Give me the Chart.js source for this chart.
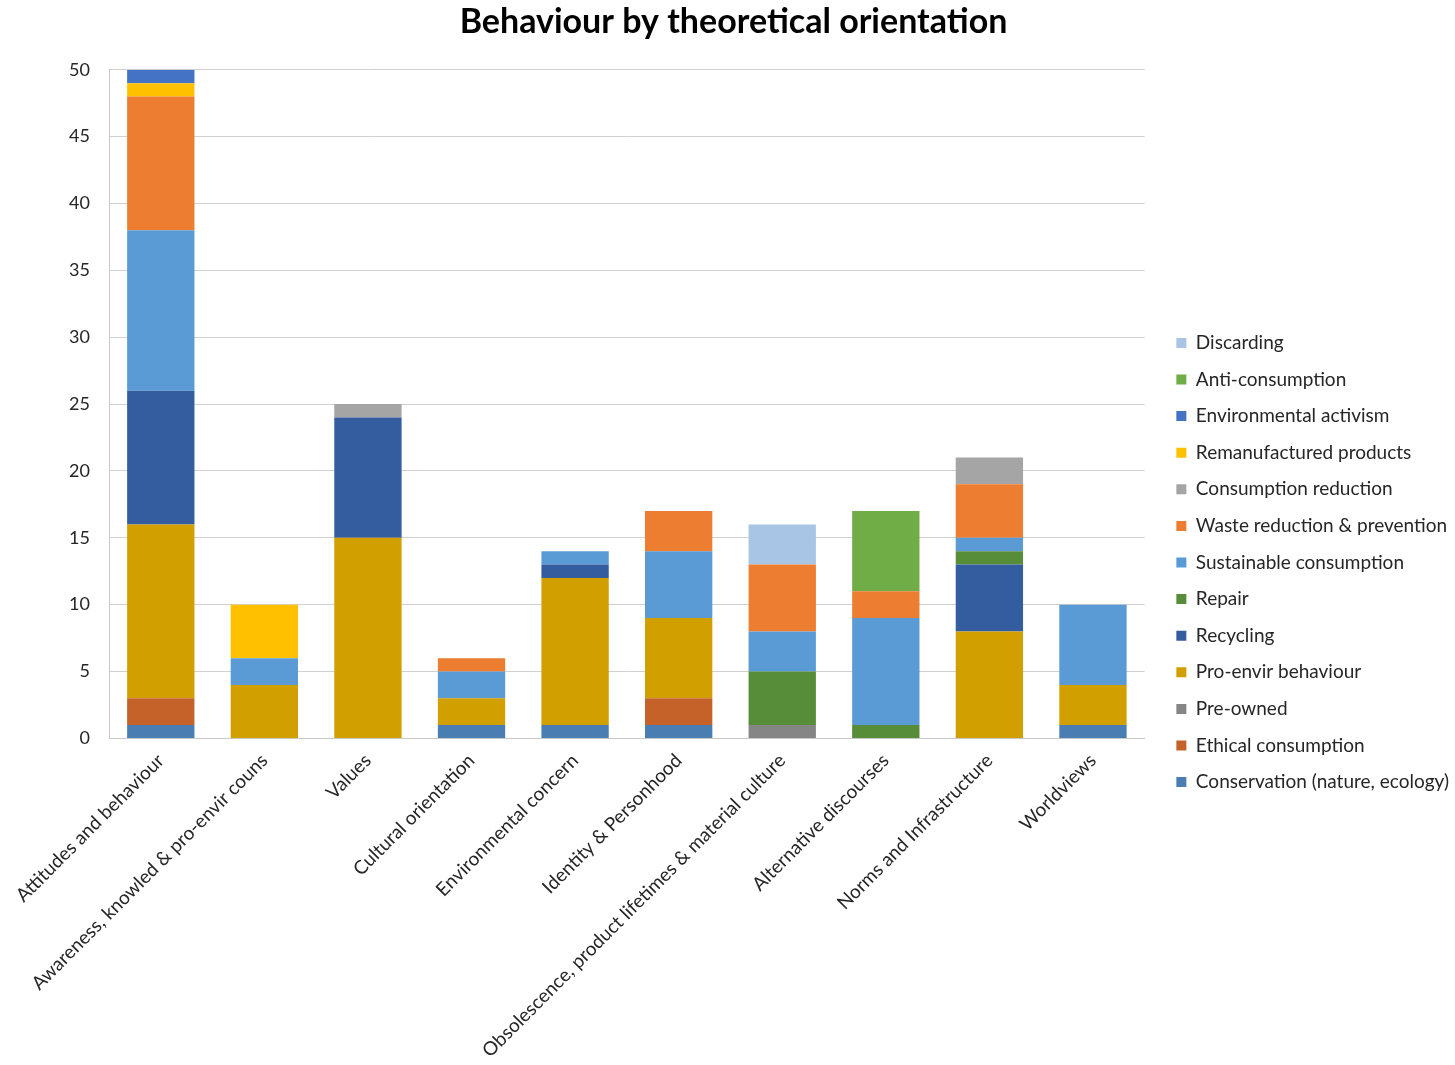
<!DOCTYPE html>
<html>
<head>
<meta charset="utf-8">
<title>Behaviour by theoretical orientation</title>
<script src="https://cdn.jsdelivr.net/npm/chart.js@4.4.1/dist/chart.umd.min.js"></script>
<style>
  html, body { margin: 0; padding: 0; background: #fff; }
  #wrap { width: 1455px; height: 1065px; }
</style>
</head>
<body>
<div id="wrap"><canvas id="behaviourChart" width="1455" height="1065"></canvas></div>
<script>
// Categories (theoretical orientation)
const categories = [
    'Attitudes and behaviour',
    'Awareness, knowled & pro-envir couns',
    'Values',
    'Cultural orientation',
    'Environmental concern',
    'Identity & Personhood',
    'Obsolescence, product lifetimes & material culture',
    'Alternative discourses',
    'Norms and Infrastructure',
    'Worldviews'
];

// Behaviour counts per category, listed from bottom of the stack upward
const conservation           = [1, 0, 0, 1, 1, 1, 0, 0, 0, 1];
const ethicalConsumption     = [2, 0, 0, 0, 0, 2, 0, 0, 0, 0];
const preOwned               = [0, 0, 0, 0, 0, 0, 1, 0, 0, 0];
const proEnvirBehaviour      = [13, 4, 15, 2, 11, 6, 0, 0, 8, 3];
const recycling              = [10, 0, 9, 0, 1, 0, 0, 0, 5, 0];
const repair                 = [0, 0, 0, 0, 0, 0, 4, 1, 1, 0];
const sustainableConsumption = [12, 2, 0, 2, 1, 5, 3, 8, 1, 6];
const wasteReduction         = [10, 0, 0, 1, 0, 3, 5, 2, 4, 0];
const consumptionReduction   = [0, 0, 1, 0, 0, 0, 0, 0, 2, 0];
const remanufactured         = [1, 4, 0, 0, 0, 0, 0, 0, 0, 0];
const envActivism            = [1, 0, 0, 0, 0, 0, 0, 0, 0, 0];
const antiConsumption        = [0, 0, 0, 0, 0, 0, 0, 6, 0, 0];
const discarding             = [0, 0, 0, 0, 0, 0, 3, 0, 0, 0];

// Y axis range
const yMin = 0;
const yMax = 50;
const yStep = 5;

const FONT = 'Lato, "Open Sans", sans-serif';

const series = [
    { label: 'Conservation (nature, ecology)', data: conservation, color: '#4A7EB3' },
    { label: 'Ethical consumption', data: ethicalConsumption, color: '#C5622A' },
    { label: 'Pre-owned', data: preOwned, color: '#858585' },
    { label: 'Pro-envir behaviour', data: proEnvirBehaviour, color: '#D29F00' },
    { label: 'Recycling', data: recycling, color: '#345D9F' },
    { label: 'Repair', data: repair, color: '#578C38' },
    { label: 'Sustainable consumption', data: sustainableConsumption, color: '#5B9BD5' },
    { label: 'Waste reduction & prevention', data: wasteReduction, color: '#ED7D31' },
    { label: 'Consumption reduction', data: consumptionReduction, color: '#A5A5A5' },
    { label: 'Remanufactured products', data: remanufactured, color: '#FFC000' },
    { label: 'Environmental activism', data: envActivism, color: '#4472C4' },
    { label: 'Anti-consumption', data: antiConsumption, color: '#70AD47' },
    { label: 'Discarding', data: discarding, color: '#A9C5E6' }
];

// Leaves some room between the plot and the legend, and nudges the legend items
const legendGap = {
    id: 'legendGap',
    beforeLayout(chart, args, opts) {
        const legend = chart.legend;
        if (!legend || legend._gapPatched) return;
        legend._gapPatched = true;
        const fit = legend.fit;
        legend.fit = function () {
            fit.call(this);
            this.width += opts.width;
        };
        const draw = legend.draw;
        legend.draw = function () {
            const c = this.ctx;
            c.save();
            c.translate(opts.dx, opts.dy);
            draw.call(this);
            c.restore();
        };
    }
};

function drawChart() {
    const ctx = document.getElementById('behaviourChart');
    new Chart(ctx, {
        type: 'bar',
        data: {
            labels: categories,
            datasets: series.map(s => ({
                label: s.label,
                data: s.data,
                backgroundColor: s.color,
                borderWidth: 0,
                barPercentage: 0.65,
                categoryPercentage: 1.0
            }))
        },
        plugins: [legendGap],
        options: {
            responsive: false,
            animation: false,
            layout: { padding: { left: 12, bottom: 0 } },
            scales: {
                x: {
                    stacked: true,
                    grid: { display: false },
                    border: { display: true, color: '#C8C8C8' },
                    ticks: {
                        autoSkip: false,
                        maxRotation: 45,
                        minRotation: 45,
                        padding: 3,
                        color: '#262626',
                        font: { family: FONT, size: 19 }
                    }
                },
                y: {
                    stacked: true,
                    min: yMin,
                    max: yMax,
                    grid: { color: '#D0D0D0', drawTicks: false },
                    border: { display: true, color: '#C8C8C8' },
                    ticks: {
                        stepSize: yStep,
                        padding: 19,
                        color: '#262626',
                        font: { family: FONT, size: 18 }
                    },
                    afterFit(scale) { scale.width = 97; }
                }
            },
            plugins: {
                legendGap: { width: 10, dx: 14, dy: 30 },
                title: {
                    display: true,
                    text: 'Behaviour by theoretical orientation',
                    color: '#000',
                    font: { family: FONT, size: 34, weight: 'bold' },
                    padding: { top: 2, bottom: 27 }
                },
                legend: {
                    position: 'right',
                    reverse: true,
                    labels: {
                        boxWidth: 10,
                        boxHeight: 10,
                        padding: 17.6,
                        color: '#262626',
                        font: { family: FONT, size: 19 }
                    }
                },
                tooltip: { enabled: false }
            }
        }
    });
}

// make sure the text is measured with the real font
Promise.all([
    document.fonts.load('19px Lato'),
    document.fonts.load('bold 34px Lato')
]).then(drawChart, drawChart);
</script>
</body>
</html>
